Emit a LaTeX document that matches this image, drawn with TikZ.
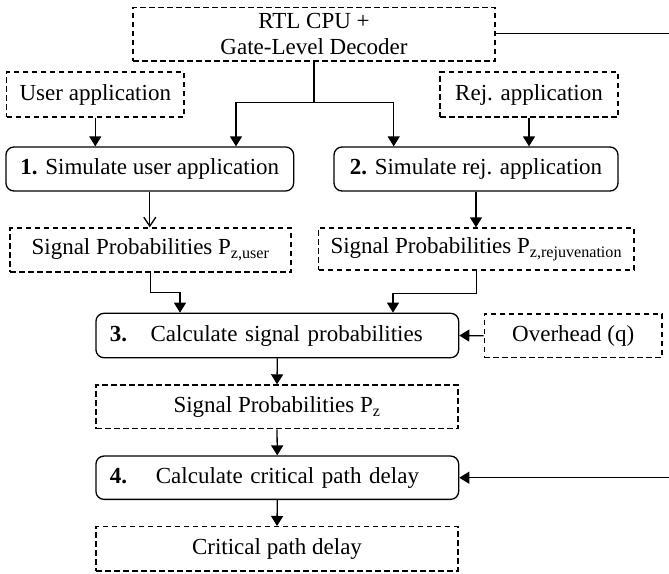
\documentclass[tikz,border=0pt]{standalone}
\usepackage{fontspec}
\setmainfont{Liberation Serif}
\usetikzlibrary{arrows.meta}
\begin{document}
\begin{tikzpicture}[x=1pt,y=-1pt,
  font=\fontsize{23pt}{26pt}\selectfont,
  every node/.style={inner sep=0pt, line width=1.3pt},
  dbox/.style={draw, dash pattern=on 5.5pt off 3.5pt},
  sbox/.style={draw, rounded corners=8pt},
  conn/.style={line width=1.3pt},
  arr/.style={conn, -{Triangle[length=10pt,width=12pt]}},
  arrv/.style={conn, -{Straight Barb[length=9pt,width=12pt]}},
  ]
\fill[white] (0,0) rectangle (669,573);
\useasboundingbox (0,0) rectangle (669,573);

% nodes
\node[dbox, minimum width=362pt, minimum height=53.7pt, align=center] (rtl) at (314,34.2) {RTL CPU +\\Gate-Level Decoder};
\node[dbox, minimum width=177.3pt, minimum height=45pt] (ua) at (95.3,94.5) {User application};
\node[dbox, minimum width=178pt, minimum height=45pt] (ra) at (529,94.5) {Rej. application};
\node[sbox, minimum width=287.7pt, minimum height=44pt] (b1) at (149.8,169) {\textbf{1.} Simulate user application};
\node[sbox, minimum width=284pt, minimum height=44pt] (b2) at (476,169) {\textbf{2.} Simulate rej. application};
\node[dbox, minimum width=281pt, minimum height=44pt] (su) at (150.5,250) {Signal Probabilities P\textsubscript{z,user}};
\node[dbox, minimum width=315.3pt, minimum height=42pt] (sr) at (476.3,249) {Signal Probabilities P\textsubscript{z,rejuvenation}};
\node[sbox, minimum height=44.4pt, inner xsep=14pt, text width=334.7pt, align=left] (b3) at (277.3,335.5) {\textbf{3.}\hspace{23.4pt}Calculate signal probabilities};
\node[dbox, minimum width=177.7pt, minimum height=43.7pt] (ov) at (573.2,335.8) {Overhead (q)};
\node[dbox, minimum width=362pt, minimum height=43.7pt] (sz) at (277,406.8) {Signal Probabilities P\textsubscript{z}};
\node[sbox, minimum height=43.3pt, inner xsep=14pt, text width=334.7pt, align=left] (b4) at (277.3,477.7) {\textbf{4.}\hspace{28.7pt}Calculate critical path delay};
\node[dbox, minimum width=362pt, minimum height=44.3pt] (cp) at (277,548.8) {Critical path delay};

% helper coordinates
\coordinate (eR1) at (669,33.5);
\coordinate (eR2) at (669,477.7);
\coordinate (split) at (314,102.7);
\coordinate (sl) at (236,102.7);
\coordinate (sright) at (393.7,102.7);
\coordinate (j1) at (180,292.7);
\coordinate (j2) at (393,293.3);

% connectors
\draw[conn] (rtl.east |- eR1) -- (eR1);
\draw[conn] (rtl.south) -- (split);
\draw[arr] (split) -- (sl) -- (sl |- b1.north);
\draw[arr] (split) -- (sright) -- (sright |- b2.north);
\draw[arr] (ua.south) -- (ua.south |- b1.north);
\draw[arr] (ra.south) -- (ra.south |- b2.north);
\draw[arrv] (b1.south) -- (b1.south |- su.north);
\draw[arr] (b2.south) -- (b2.south |- sr.north);
\draw[arr] (su.south) |- (j1) -- (j1 |- b3.north);
\draw[arr] (sr.south) |- (j2) -- (j2 |- b3.north);
\draw[arr] (ov.west) -- (b3.east);
\draw[arr] (b3.south) -- (sz.north);
\draw[arr] (sz.south) -- (b4.north);
\draw[arr] (b4.south) -- (cp.north);
\draw[arr] (eR2) -- (b4.east);
\end{tikzpicture}
\end{document}
